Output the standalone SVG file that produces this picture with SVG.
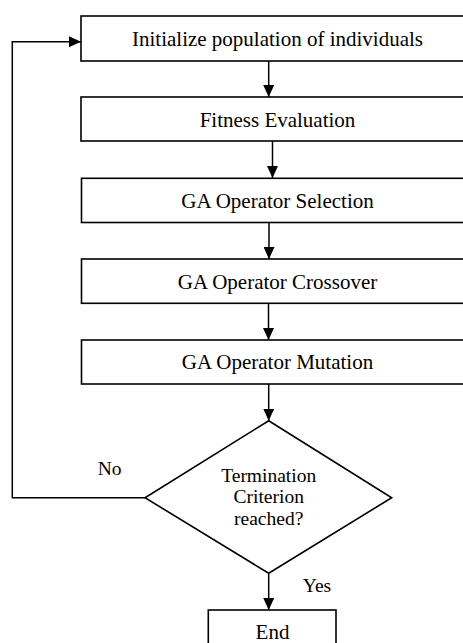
<svg xmlns="http://www.w3.org/2000/svg" width="463" height="643" viewBox="0 0 463 643">
<defs>
<marker id="ah" viewBox="0 0 12 11" refX="12" refY="5.5" markerWidth="12" markerHeight="11" markerUnits="userSpaceOnUse" orient="auto">
<path d="M0,0 L12,5.5 L0,11 Z" fill="#000"/>
</marker>
<style>
.box{fill:#fff;stroke:#000;stroke-width:1.6}
.t{font-family:'Liberation Serif','DejaVu Serif',serif;font-size:21px;fill:#000;text-anchor:middle}
.s{font-family:'Liberation Serif','DejaVu Serif',serif;font-size:19.5px;fill:#000;text-anchor:middle}
.c{fill:none;stroke:#000;stroke-width:1.5;marker-end:url(#ah)}
</style>
</defs>
<rect width="463" height="643" fill="#fff"/>
<g id="connectors">
<line class="c" x1="268.7" y1="61" x2="268.7" y2="97"/>
<line class="c" x1="272.5" y1="141" x2="272.5" y2="178"/>
<line class="c" x1="269" y1="222.5" x2="269" y2="259"/>
<line class="c" x1="268.5" y1="303.5" x2="268.5" y2="340"/>
<line class="c" x1="268.7" y1="384" x2="268.7" y2="420.7"/>
<polyline class="c" points="145,497.7 12.3,497.7 12.3,41.7 81,41.7"/>
<line class="c" x1="268.7" y1="573.3" x2="268.7" y2="610"/>
<text class="s" x="109.7" y="475">No</text>
<text class="s" x="317" y="591.7">Yes</text>
</g>
<g id="n1"><rect class="box" x="81" y="16" width="400" height="45"/><text class="t" x="277.5" y="45.8">Initialize population of individuals</text></g>
<g id="n2"><rect class="box" x="81" y="97" width="400" height="44"/><text class="t" x="277.5" y="126.6">Fitness Evaluation</text></g>
<g id="n3"><rect class="box" x="81.5" y="178.3" width="400" height="44.2"/><text class="t" x="277.5" y="207.8">GA Operator Selection</text></g>
<g id="n4"><rect class="box" x="81.5" y="259" width="400" height="44.3"/><text class="t" x="277.5" y="288.6">GA Operator Crossover</text></g>
<g id="n5"><rect class="box" x="81.5" y="340" width="400" height="44"/><text class="t" x="277.5" y="369.2">GA Operator Mutation</text></g>
<g id="n6"><polygon class="box" points="268.7,420.7 391.7,497.7 268.7,573.3 145,497.7"/>
<text class="s" x="268.7" y="481.7">Termination</text>
<text class="s" x="268.7" y="503.4">Criterion</text>
<text class="s" x="268.7" y="525.1">reached?</text></g>
<g id="n7"><rect class="box" x="208.3" y="610" width="127.7" height="50"/><text class="t" x="272.5" y="639">End</text></g>
</svg>
